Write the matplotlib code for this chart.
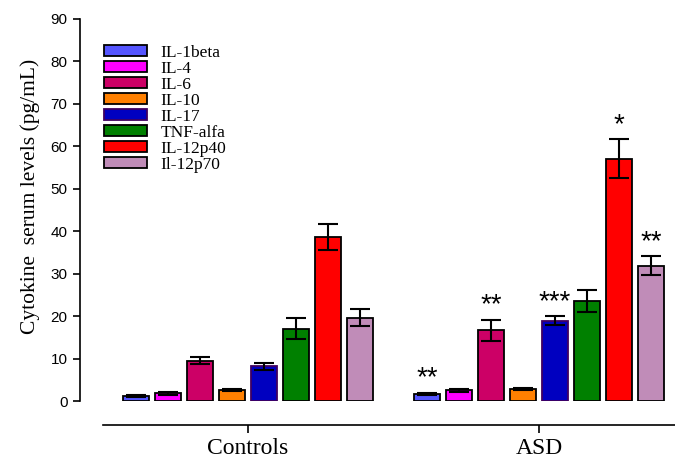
import numpy as np
import matplotlib.pyplot as plt

groups = ["Controls", "ASD"]
cytokines = ["IL-1beta", "IL-4", "IL-6", "IL-10", "IL-17", "TNF-alfa", "IL-12p40", "Il-12p70"]
colors = ["#5555FF", "#FF00FF", "#CC0066", "#FF8000", "#0000C0", "#008000", "#FF0000", "#C08CB8"]
edge_colors = ["black", "black", "black", "black", "#400060", "black", "black", "black"]

controls_mean = [1.2, 1.8, 9.5, 2.6, 8.2, 17.0, 38.6, 19.6]
controls_err = [0.3, 0.3, 0.8, 0.3, 0.8, 2.5, 3.0, 2.0]
asd_mean = [1.7, 2.5, 16.7, 2.8, 18.9, 23.5, 57.1, 31.9]
asd_err = [0.3, 0.3, 2.5, 0.3, 1.1, 2.6, 4.6, 2.2]
asd_stars = ["**", "", "**", "", "***", "", "*", "**"]

means = [controls_mean, asd_mean]
errs = [controls_err, asd_err]

fig = plt.figure(figsize=(6.75, 4.61), dpi=100)
ax = fig.add_axes([80 / 675, 60 / 461, 595 / 675, 382 / 461])

step = 0.11
width = 0.0893
handles = []
for g in range(len(groups)):
    for i in range(len(cytokines)):
        x = g + (i - 3.5) * step
        b = ax.bar(x, means[g][i], width, color=colors[i], edgecolor=edge_colors[i],
                   linewidth=1.3, zorder=2)
        ax.errorbar(x, means[g][i], yerr=errs[g][i], color="black", capsize=7,
                    elinewidth=1.5, capthick=1.5, zorder=3)
        if g == 0:
            handles.append(b)

for i, s in enumerate(asd_stars):
    if s:
        ax.text(1 + (i - 3.5) * step, asd_mean[i] + asd_err[i] + 0.3, s,
                ha="center", va="bottom", fontsize=20, family="Liberation Sans")

ax.spines["top"].set_visible(False)
ax.spines["right"].set_visible(False)
ax.spines["left"].set_linewidth(1.2)
ax.spines["bottom"].set_linewidth(1.2)
ax.spines["bottom"].set_position(("outward", 17.3))
ax.spines["bottom"].set_bounds(-0.498, 1.467)

ax.set_xlim(-0.577, 1.467)
ax.set_ylim(0, 90)
ax.set_yticks(np.arange(0, 91, 10))
ax.set_xticks([0, 1])
ax.set_xticklabels(groups)
ax.tick_params(axis="y", length=5, width=1.2, pad=4, labelsize=11,
               labelfontfamily="Liberation Sans")
ax.tick_params(axis="x", length=6, width=1.2, pad=3, labelsize=17,
               labelfontfamily="Liberation Serif")

ax.set_ylabel("Cytokine  serum levels (pg/mL)", family="Liberation Serif", fontsize=15.5)
ax.yaxis.set_label_coords(-0.068, 0.535)

ax.legend(handles=[h[0] for h in handles], labels=cytokines, loc="upper left",
          bbox_to_anchor=(104 / 675, 1 - 45 / 461), bbox_transform=fig.transFigure,
          frameon=False, prop={"family": "Liberation Serif", "size": 12.5},
          handlelength=2.5, handleheight=0.6, handletextpad=0.75,
          labelspacing=0.0, borderpad=0, borderaxespad=0)

fig.savefig("out.png", dpi=100)
